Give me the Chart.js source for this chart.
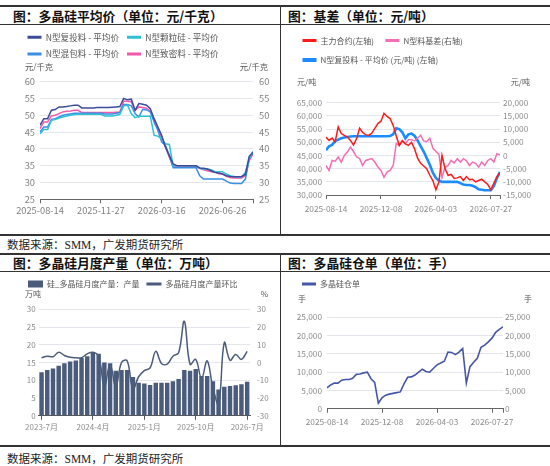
<!DOCTYPE html>
<html>
<head>
<meta charset="utf-8">
<script src="https://cdn.jsdelivr.net/npm/chart.js@4.4.1/dist/chart.umd.min.js"></script>
<style>
  body { margin: 0; background: #fff; }
  #page { position: relative; width: 550px; height: 466px; overflow: hidden; font-family: "Noto Sans CJK SC", sans-serif; }
  .rule { position: absolute; background: #333; }
  .title { position: absolute; font-size: 12.8px; font-weight: bold; line-height: 18px; color: #111; white-space: nowrap; }
  .source { position: absolute; left: 7px; font-size: 11.5px; line-height: 18px; color: #222; white-space: nowrap;
            font-family: "Liberation Serif", "Noto Sans CJK SC", serif; }
  canvas { position: absolute; }
</style>
</head>
<body>
<div id="page">
  <!-- table rules -->
  <div class="rule" style="left:0;top:5px;width:550px;height:1.5px"></div>
  <div class="rule" style="left:0;top:24px;width:550px;height:1px"></div>
  <div class="rule" style="left:280px;top:5px;width:1px;height:230px"></div>
  <div class="rule" style="left:0;top:234px;width:550px;height:1.5px"></div>
  <div class="rule" style="left:0;top:253px;width:550px;height:1.5px"></div>
  <div class="rule" style="left:0;top:271px;width:550px;height:1px"></div>
  <div class="rule" style="left:280px;top:253px;width:1px;height:193px"></div>
  <div class="rule" style="left:0;top:445px;width:550px;height:1.5px"></div>

  <div class="title" style="left:13px;top:7px">图：多晶硅平均价（单位：元/千克）</div>
  <div class="title" style="left:288px;top:7px">图：基差（单位：元/吨）</div>
  <div class="source" style="top:236px">数据来源：SMM，广发期货研究所</div>
  <div class="title" style="left:13px;top:254px">图：多晶硅月度产量（单位：万吨）</div>
  <div class="title" style="left:288px;top:254px">图：多晶硅仓单（单位：手）</div>
  <div class="source" style="top:450px">数据来源：SMM，广发期货研究所</div>

  <canvas id="price" width="280" height="210" style="left:0;top:25px"></canvas>
  <canvas id="basis" width="269" height="210" style="left:281px;top:25px"></canvas>
  <canvas id="output" width="280" height="172" style="left:0;top:273px"></canvas>
  <canvas id="receipt" width="269" height="172" style="left:281px;top:273px"></canvas>
</div>

<script>
// ---- data: polysilicon average prices (yuan/kg), roughly weekly ----
const priceTickIdx = [0, 16, 32, 48];
const priceTickLabels = ['2025-08-14', '2025-11-27', '2026-03-16', '2026-06-26'];
const priceFuTou = [47, 49, 49, 51.5, 51.7, 52.5, 52.5, 52.6, 52.8, 53,
  53, 52.2, 52.2, 52.2, 52.2, 52.3, 52.3, 52.3, 52.3, 52.4,
  52.5, 52.6, 55, 54.6, 54.8, 51.5, 53.5, 53.3, 53, 52,
  49, 46.5, 44, 40.5, 38, 35.5, 35, 35, 35, 35,
  35, 35, 34.3, 34.2, 34, 33.5, 33, 32.8, 32.5, 32,
  31.8, 31.7, 31.7, 31.8, 32.4, 37.8, 39];
const priceKeLi = [44.5, 45.8, 45.8, 48.5, 48.7, 49.2, 49.5, 49.8, 50, 50.2,
  50.3, 50.3, 50.3, 50.3, 50.3, 50.3, 50.3, 49.8, 49.8, 49.8,
  50, 50.3, 52.8, 53, 50.5, 49.3, 49.7, 49.7, 49.7, 49.7,
  44, 43.8, 43, 41.5, 41.3, 35, 35, 35, 35, 35,
  35, 35, 34.2, 34, 34, 33.8, 33.2, 33.2, 33.2, 32.5,
  32, 31.8, 31.6, 31.6, 33, 37, 39.3];
const priceHunBao = [45, 46.5, 46.5, 48.8, 49, 49.5, 50, 50.2, 50.4, 50.6,
  50.6, 50.6, 50.6, 50.6, 50.6, 50.6, 50.6, 50.4, 50.4, 50.4,
  50.6, 50.8, 53.2, 53.2, 52.8, 50.5, 49.5, 51.8, 51.6, 51,
  48, 45.5, 42, 41, 38, 34.4, 34.4, 34.4, 34.4, 34.4,
  34.4, 34.4, 32, 31, 31, 31, 31, 31, 31, 30.4,
  29.8, 29.7, 29.7, 29.7, 31, 37, 38.8];
const priceZhiMi = [46, 48, 48, 49.8, 50, 50.5, 51, 51.2, 51.3, 51.5,
  51.5, 50.8, 50.8, 50.8, 50.8, 50.8, 50.8, 50.8, 50.8, 50.8,
  50.9, 51, 54.2, 54.2, 54, 51.5, 52.5, 52.3, 52.1, 51.3,
  48.5, 46, 43.5, 40.5, 37.5, 34.8, 34.6, 34.6, 34.6, 34.6,
  34.6, 34.6, 34.2, 33.8, 33.5, 33.2, 33, 32.6, 32.5, 31.8,
  31.5, 31.3, 31.3, 31.3, 32, 36.5, 38.5];

// ---- data: basis (yuan/ton) ----
const basisTickIdx = [0, 18, 36, 54];
const basisTickLabels = ['2025-08-14', '2025-12-08', '2026-04-03', '2026-07-27'];
const basisFutures = [52000, 50700, 51600, 50200, 55800, 53300, 52600, 52000, 50700, 49000,
  51300, 55300, 53700, 52900, 52600, 53500, 55300, 57100, 58000, 61000,
  59800, 59000, 56400, 52500, 48800, 50500, 49400, 48800, 50000, 47500,
  44000, 42000, 41000, 40000, 37500, 35500, 32000, 35000, 45000, 40000,
  37500, 37800, 36300, 36500, 37000, 35500, 37000, 35800, 36000, 35000,
  35500, 36000, 35000, 34000, 32000, 34500, 36900, 38600];
const basisSpread = [-3800, -5700, -1900, -2200, -600, -2500, 0, 1300, 3200, 1500,
  -500, -1200, -3800, -1900, -1500, -1200, -2500, -4400, -5700, -8300,
  -6300, -5700, -3800, 4500, 4000, 5700, 4500, 6000, 6000, 5500,
  6500, 7700, 5500, 5200, 6500, 2800, 1500, 500, -8300, -4500,
  -3800, -1900, -2800, -1200, -2500, -1200, -2000, -3800, -2500, -3000,
  -4400, -2500, -3800, -1900, -1200, -2500, 700, 300];
const basisSpot = [47000, 48500, 49000, 50500, 51000, 51500, 51800, 52000, 52200, 52300,
  52300, 52300, 52300, 52300, 52300, 52300, 52300, 52300, 52300, 52300,
  52300, 52400, 53000, 55300, 55000, 53800, 51500, 53000, 53300, 52500,
  50700, 48500, 46500, 44000, 41500, 38500, 36500, 35500, 35000, 35000,
  35000, 35000, 35000, 35000, 34500, 34000, 33800, 33800, 33500, 33000,
  32200, 32000, 31800, 31800, 31800, 33500, 36500, 38700];

// ---- data: monthly output (10k tons) and month-on-month (%) ----
const outputMonths = ['2023-7月', '2023-8月', '2023-9月', '2023-10月', '2023-11月', '2023-12月',
  '2024-1月', '2024-2月', '2024-3月', '2024-4月', '2024-5月', '2024-6月',
  '2024-7月', '2024-8月', '2024-9月', '2024-10月', '2024-11月', '2024-12月',
  '2025-1月', '2025-2月', '2025-3月', '2025-4月', '2025-5月', '2025-6月',
  '2025-7月', '2025-8月', '2025-9月', '2025-10月', '2025-11月', '2025-12月',
  '2026-1月', '2026-2月', '2026-3月', '2026-4月', '2026-5月', '2026-6月', '2026-7月'];
const outputVolume = [12.3, 12.9, 13.3, 14.1, 14.8, 15.3, 15.6, 16.3, 16.8, 17.7,
  17.5, 15.0, 14.8, 12.7, 12.9, 12.9, 10.9, 9.3, 9.1, 8.7,
  9.3, 9.3, 9.3, 9.7, 10.4, 12.9, 12.7, 13.2, 11.2, 11.2,
  9.7, 7.4, 8.2, 8.4, 8.6, 8.9, 9.6];
const outputMoM = [2.7, 3.6, 3.3, 5.8, 4.0, 3.0, 2.7, 2.7, 4.9, 5.8,
  3.5, -13.5, -1, -13.5, 0, 0.9, -15, -8, -4.5, -3,
  6.3, -0.5, -0.9, 3.6, 5.5, 23.2, -1, 1.8, -9, 0.9,
  -14, -23.5, 11.2, 1.3, 4.5, 1.8, 6.3];

// ---- data: warehouse receipts (lots) ----
const receiptTickIdx = [0, 15, 30, 45];
const receiptTickLabels = ['2025-08-14', '2025-12-08', '2026-04-03', '2026-07-27'];
const receiptCount = [5700, 6500, 7000, 7000, 7800, 8000, 8000, 8300, 9400, 9500,
  9800, 10000, 8200, 7200, 1500, 3000, 3700, 4000, 4200, 4400,
  4600, 6800, 8600, 8700, 9200, 10000, 10800, 10200, 10000, 11000,
  12000, 12500, 13000, 15500, 15400, 14800, 15500, 16500, 7000, 11500,
  12700, 13800, 16800, 17400, 18300, 19300, 20900, 21700, 22400];

Chart.defaults.font.family = '"Noto Sans CJK SC", "Noto Sans", sans-serif';
const GRID = '#e4e6ee';

// add room under the legend
const legendGap = {
  id: 'legendGap',
  beforeInit(chart, args, opts) {
    const fit = chart.legend.fit;
    chart.legend.fit = function () {
      fit.call(this);
      this.height += opts.gap || 0;
    };
  }
};

// horizontal unit captions above both y axes
const unitLabels = {
  id: 'unitLabels',
  afterDraw(chart, args, o) {
    const { ctx, chartArea } = chart;
    ctx.save();
    ctx.font = o.size + 'px "Noto Sans CJK SC", sans-serif';
    ctx.fillStyle = '#555';
    ctx.textBaseline = 'middle';
    ctx.textAlign = 'left';
    ctx.fillText(o.left, chartArea.left + o.dxLeft, chartArea.top - o.dy);
    ctx.textAlign = 'right';
    ctx.fillText(o.right, chartArea.right + o.dxRight, chartArea.top - o.dy);
    ctx.restore();
  }
};

// line swatches for lines, boxes for bars
const swatchLabels = chart => {
  const items = Chart.defaults.plugins.legend.labels.generateLabels(chart);
  items.forEach(item => {
    const ds = chart.data.datasets[item.datasetIndex];
    const isBar = ds.type === 'bar';
    item.pointStyle = isBar ? 'rect' : 'line';
    item.lineWidth = isBar ? 0 : (ds.swatchWidth || 3);
  });
  return items;
};

const legendOpts = (align, pad, size, swatch, boxH) => ({
  align,
  labels: {
    usePointStyle: true, pointStyleWidth: swatch, boxHeight: boxH, padding: pad,
    color: '#555', font: { size }, generateLabels: swatchLabels,
    sort: (a, b) => a.datasetIndex - b.datasetIndex
  }
});

const yAxis = (pos, min, max, step, width, pad, size, color, grid) => ({
  position: pos, min, max,
  afterFit: s => { s.width = width; },
  border: { display: false },
  grid: { drawOnChartArea: grid, drawTicks: false, color: GRID },
  ticks: { autoSkip: false, stepSize: step, padding: pad, color, font: { size },
           callback: v => v.toLocaleString('en-US') }
});

const dateAxis = (last, tickIdx, tickText, pad, size, color) => ({
  type: 'linear', min: 0, max: last,
  afterBuildTicks: s => { s.ticks = tickIdx.concat(last).map(v => ({ value: v })); },
  border: { display: true, color: '#666' },
  grid: { drawOnChartArea: false, tickLength: 4, color: '#666' },
  ticks: {
    autoSkip: false, maxRotation: 0, padding: pad, color, font: { size },
    callback: v => tickText[tickIdx.indexOf(v)] || ''
  }
});

const line = (label, values, color, width, axis, swatch) => ({
  label, data: values.map((v, i) => ({ x: i, y: v })),
  borderColor: color, backgroundColor: color, borderWidth: width,
  pointRadius: 0, tension: 0, yAxisID: axis, swatchWidth: swatch
});

// chart 1: average prices
new Chart(document.getElementById('price'), {
  type: 'line',
  data: {
    datasets: [
      line('N型复投料 - 平均价', priceFuTou, '#3e4b9b', 1.5, 'y', 3),
      line('N型颗粒硅 - 平均价', priceKeLi, '#2fc0d6', 1.5, 'y', 3),
      line('N型混包料 - 平均价', priceHunBao, '#3b8ee3', 1.5, 'y', 3),
      line('N型致密料 - 平均价', priceZhiMi, '#f25aa9', 1.5, 'y', 3)
    ]
  },
  options: {
    responsive: false, animation: false,
    layout: { padding: { left: 19.5, right: 0, top: 0, bottom: 17.6 } },
    plugins: {
      legend: legendOpts('start', 8, 8.6, 14, 3),
      tooltip: { enabled: false },
      legendGap: { gap: 13.5 },
      unitLabels: { left: '元/千克', right: '元/千克', size: 8.3, dxLeft: -15, dxRight: 15, dy: 14.7 }
    },
    scales: {
      x: dateAxis(56, priceTickIdx, priceTickLabels, 1.5, 9.3, '#7f7f7f'),
      y: yAxis('left', 25, 60, 5, 20.5, 5, 9.3, '#7f7f7f', true),
      y1: yAxis('right', 25, 60, 5, 27, 6, 9.3, '#7f7f7f', false)
    }
  },
  plugins: [legendGap, unitLabels]
});

// chart 2: basis
new Chart(document.getElementById('basis'), {
  type: 'line',
  data: {
    datasets: [
      line('主力合约(左轴)', basisFutures, '#ff1a1a', 1.5, 'y', 3),
      line('N型料基差(右轴)', basisSpread, '#f56db5', 1.5, 'y1', 3),
      line('N型复投料 - 平均价 (元/吨) (左轴)', basisSpot, '#1a8cff', 2.6, 'y', 4)
    ]
  },
  options: {
    responsive: false, animation: false,
    layout: { padding: { left: 10, right: 0, top: 0, bottom: 17 } },
    plugins: {
      legend: legendOpts('start', 11.5, 8, 14, 3),
      tooltip: { enabled: false },
      legendGap: { gap: 28.7 },
      unitLabels: { left: '元/吨', right: '元/吨', size: 8, dxLeft: -29, dxRight: 30, dy: 21 }
    },
    scales: {
      x: dateAxis(57, basisTickIdx, basisTickLabels, 4.5, 8.3, '#8c8c8c'),
      y: yAxis('left', 30000, 65000, 5000, 35, 4, 8.3, '#8c8c8c', true),
      y1: yAxis('right', -15000, 20000, 5000, 50, 3, 8.3, '#8c8c8c', false)
    }
  },
  plugins: [legendGap, unitLabels]
});

// chart 3: monthly output
new Chart(document.getElementById('output'), {
  type: 'bar',
  data: {
    labels: outputMonths,
    datasets: [
      { type: 'bar', label: '硅_多晶硅月度产量：产量', data: outputVolume, backgroundColor: '#4a5b7b',
        yAxisID: 'y', order: 1, barPercentage: 0.78, categoryPercentage: 1 },
      { type: 'line', label: '多晶硅月度产量环比', data: outputMoM, borderColor: '#4a5b7b', backgroundColor: '#4a5b7b',
        borderWidth: 1.5, pointRadius: 0, tension: 0.4, yAxisID: 'y1', order: 0 }
    ]
  },
  options: {
    responsive: false, animation: false,
    layout: { padding: { left: 21, right: 0, top: 0, bottom: 10.6 } },
    plugins: {
      legend: legendOpts('start', 7, 8, 15, 7),
      tooltip: { enabled: false },
      legendGap: { gap: 11.3 },
      unitLabels: { left: '万吨', right: '%', size: 8, dxLeft: -13.7, dxRight: 18, dy: 15.3 }
    },
    scales: {
      x: {
        offset: true,
        border: { display: true, color: '#555' },
        grid: { offset: false, drawOnChartArea: false, tickLength: 4,
                tickColor: c => c.index % 9 === 0 ? '#555' : 'rgba(0,0,0,0)' },
        ticks: { autoSkip: false, maxRotation: 0, padding: 2.5, color: '#8c8c8c', font: { size: 8 },
                 callback: (v, i) => i % 9 === 0 ? outputMonths[i] : '' }
      },
      y: yAxis('left', 0, 30, 5, 17.7, 3, 8, '#8c8c8c', true),
      y1: yAxis('right', -30, 30, 10, 30, 7, 8, '#8c8c8c', false)
    }
  },
  plugins: [legendGap, unitLabels]
});

// chart 4: warehouse receipts
new Chart(document.getElementById('receipt'), {
  type: 'line',
  data: {
    datasets: [line('多晶硅仓单', receiptCount, '#4656a6', 1.6, 'y', 3)]
  },
  options: {
    responsive: false, animation: false,
    layout: { padding: { left: 14, right: 0, top: 0, bottom: 14.3 } },
    plugins: {
      legend: legendOpts('start', 7, 8, 14, 3),
      tooltip: { enabled: false },
      legendGap: { gap: 19.3 },
      unitLabels: { left: '手', right: '手', size: 8, dxLeft: -29, dxRight: 29, dy: 18.3 }
    },
    scales: {
      x: dateAxis(48, receiptTickIdx, receiptTickLabels, 4, 8.3, '#8c8c8c'),
      y: yAxis('left', 0, 25000, 5000, 32, 5, 8.3, '#8c8c8c', true),
      y1: yAxis('right', 0, 25000, 5000, 47, 2, 8.3, '#8c8c8c', false)
    }
  },
  plugins: [legendGap, unitLabels]
});
</script>
</body>
</html>
